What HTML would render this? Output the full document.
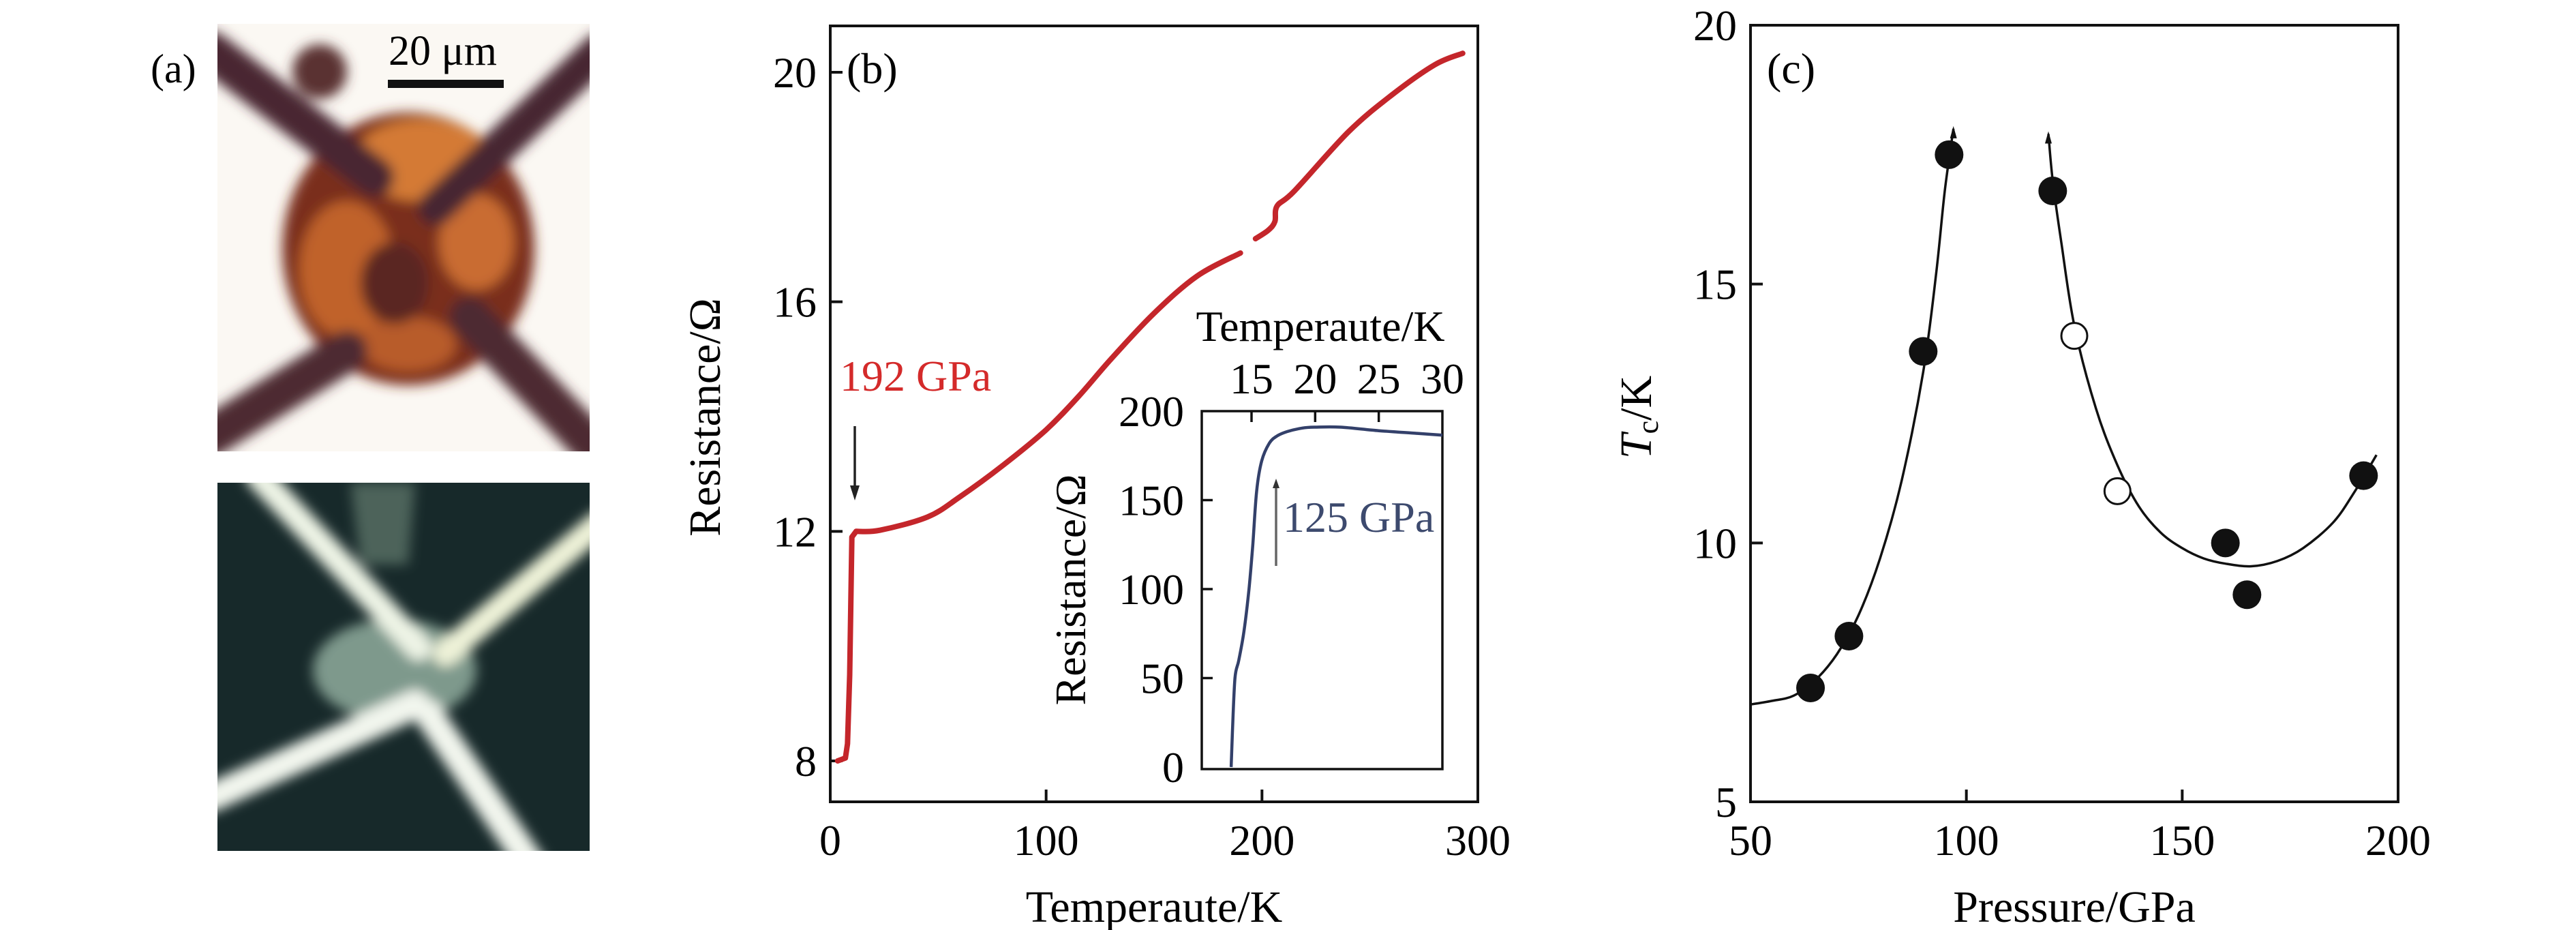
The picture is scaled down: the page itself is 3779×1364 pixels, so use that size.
<!DOCTYPE html>
<html><head><meta charset="utf-8"><style>
html,body{margin:0;padding:0;background:#fff}
svg{display:block}
text{font-family:"Liberation Serif",serif}
</style></head><body>
<svg id="fig" width="3779" height="1364" viewBox="0 0 3779 1364" xmlns="http://www.w3.org/2000/svg">
<defs>
<filter id="bl" x="-20%" y="-20%" width="140%" height="140%"><feGaussianBlur stdDeviation="9"/></filter>
<clipPath id="cpTop"><rect x="319" y="35" width="546" height="627"/></clipPath>
<clipPath id="cpBot"><rect x="319" y="708" width="546" height="540"/></clipPath>
</defs>

<g>
<text x="221" y="121" font-size="60">(a)</text>
<g clip-path="url(#cpTop)">
<rect x="319" y="35" width="546" height="627" fill="#fbf8f3"/>
<g transform="translate(319,35)" filter="url(#bl)">
<ellipse cx="280" cy="330" rx="185" ry="200" fill="#7a2f1c"/>
<ellipse cx="300" cy="200" rx="100" ry="60" fill="#d47a34"/>
<ellipse cx="190" cy="360" rx="70" ry="100" fill="#c0622a"/>
<ellipse cx="380" cy="320" rx="55" ry="70" fill="#c96c30"/>
<ellipse cx="280" cy="470" rx="70" ry="40" fill="#b85c2a"/>
<line x1="-10" y1="40" x2="230" y2="225" stroke="#4a2833" stroke-width="58" stroke-linecap="round"/>
<line x1="560" y1="40" x2="320" y2="270" stroke="#472633" stroke-width="52" stroke-linecap="round"/>
<line x1="-10" y1="605" x2="190" y2="480" stroke="#4e2a33" stroke-width="60" stroke-linecap="round"/>
<line x1="560" y1="630" x2="370" y2="430" stroke="#4e2a33" stroke-width="60" stroke-linecap="round"/>
<ellipse cx="260" cy="380" rx="50" ry="60" fill="#5a2624"/>
<ellipse cx="150" cy="70" rx="40" ry="40" fill="#5a3030"/>
</g>
</g>
<text x="570" y="95" font-size="62">20 μm</text>
<rect x="569" y="117" width="170" height="12" fill="#111"/>
<g clip-path="url(#cpBot)">
<rect x="319" y="708" width="546" height="540" fill="#17292a"/>
<g transform="translate(319,708)" filter="url(#bl)">
<path d="M195 0 L290 0 L280 120 L210 120 Z" fill="#6f8a7c" opacity="0.6"/>
<ellipse cx="260" cy="275" rx="120" ry="75" fill="#7e998c"/>
<line x1="60" y1="-10" x2="295" y2="242" stroke="#eef4e6" stroke-width="38" stroke-linecap="round"/>
<line x1="560" y1="60" x2="335" y2="250" stroke="#eef2d8" stroke-width="38" stroke-linecap="round"/>
<line x1="-10" y1="462" x2="290" y2="325" stroke="#f2f6ee" stroke-width="42" stroke-linecap="round"/>
<line x1="310" y1="340" x2="460" y2="560" stroke="#f2f6ee" stroke-width="42" stroke-linecap="round"/>
</g>
</g>
</g>

<g id="pb">
<rect x="1218" y="38" width="950" height="1138" fill="none" stroke="#111" stroke-width="4"/>
<text x="1242" y="122" font-size="64">(b)</text>
<text transform="translate(1056,612) rotate(-90)" text-anchor="middle" font-size="66">Resistance/Ω</text>
<text x="1693" y="1352" text-anchor="middle" font-size="66">Temperaute/K</text>
<text x="1232" y="573" font-size="64" fill="#d42a2a">192 GPa</text>
<line x1="1254" y1="625" x2="1254" y2="718" stroke="#222" stroke-width="3.5"/>
<polygon points="1247,712 1261,712 1254,734" fill="#222"/>
<g id="pbAxes"></g>
<g id="pbLine"></g>
<rect x="1763" y="603" width="353" height="525" fill="#fff" stroke="#111" stroke-width="3.5"/>
<text x="1937" y="500" text-anchor="middle" font-size="64">Temperaute/K</text>
<text transform="translate(1592,865) rotate(-90)" text-anchor="middle" font-size="64">Resistance/Ω</text>
<g id="inAxes"></g>
<g id="inLine"></g>
<line x1="1872" y1="830" x2="1872" y2="712" stroke="#666" stroke-width="3.5"/>
<polygon points="1867,716 1877,716 1872,702" fill="#333"/>
<text x="1882" y="780" font-size="64" fill="#3d4a6e">125 GPa</text>
</g>

<g id="pc">
<rect x="2568" y="37" width="950" height="1139" fill="none" stroke="#111" stroke-width="4"/>
<text x="2592" y="122" font-size="64">(c)</text>
<text transform="translate(2422,612) rotate(-90)" text-anchor="middle" font-size="66"><tspan font-style="italic">T</tspan><tspan font-size="44" dy="10">c</tspan><tspan dy="-10">/K</tspan></text>
<text x="3043" y="1352" text-anchor="middle" font-size="66">Pressure/GPa</text>
<g id="pcAxes"></g>
<g id="pcLines"></g>
<g id="pcPts"></g>
</g>
</svg>
<script>
const bXTicks = [0, 100, 200, 300];
const bYTicks = [8, 12, 16, 20];
const bSeg1T = [3.4, 7, 8, 9, 10, 12, 23, 45, 60, 80, 100, 115, 130, 150, 170, 190];
const bSeg1R = [8.0, 8.05, 8.3, 9.5, 11.9, 12.0, 12.02, 12.25, 12.6, 13.15, 13.77, 14.35, 15.0, 15.8, 16.45, 16.85];
const bSeg2T = [197, 203, 206, 207, 215, 240, 260, 280, 293];
const bSeg2R = [17.1, 17.25, 17.4, 17.67, 17.93, 18.96, 19.6, 20.13, 20.33];
const inXTicks = [15, 20, 25, 30];
const inYTicks = [0, 50, 100, 150, 200];
const inT = [13.4, 13.5, 13.7, 14.0, 14.4, 14.8, 15.1, 15.4, 15.8, 16.4, 17.0, 17.8, 19, 20, 22, 25, 28, 30];
const inR = [0, 20, 50, 60, 76, 100, 125, 155, 172, 182, 186, 188.5, 190.5, 191, 191, 189, 187.5, 186.5];
const cXTicks = [50, 100, 150, 200];
const cYTicks = [5, 10, 15, 20];
const cFilledP = [63.9, 72.8, 90, 96, 120, 160, 165, 192];
const cFilledT = [7.2, 8.2, 13.7, 17.5, 16.8, 10.0, 9.0, 11.3];
const cOpenP = [125, 135];
const cOpenT = [14.0, 11.0];
const cFit1P = [50, 55, 60, 65, 70, 75, 80, 85, 90, 93, 95, 97];
const cFit1T = [6.88, 6.95, 7.05, 7.35, 7.85, 8.6, 9.7, 11.2, 13.3, 15.2, 16.8, 18.0];
const cFit2P = [119, 120, 122, 125, 130, 135, 140, 145, 150, 155, 160, 166, 172, 178, 185, 190, 195];
const cFit2T = [17.9, 17.0, 15.8, 14.2, 12.6, 11.5, 10.7, 10.2, 9.9, 9.7, 9.6, 9.55, 9.65, 9.9, 10.4, 11.0, 11.7];

const NS = "http://www.w3.org/2000/svg";
function mk(tag, attrs, parent){const e=document.createElementNS(NS,tag);for(const k in attrs)e.setAttribute(k,attrs[k]);parent.appendChild(e);return e;}
function lin(d0,d1,r0,r1){return v=>r0+(v-d0)*(r1-r0)/(d1-d0);}
const bx = lin(0,300,1218,2168), by = lin(8,20,1116,106);
const ix = lin(15,30,1836,2116), iy = lin(0,200,1125,603);
const cx = lin(50,200,2568,3518), cy = lin(5,20,1176,37);

// linearUntil: segments before this index are drawn straight
function smoothD(xs, ys, fx, fy, linearUntil){
  linearUntil = linearUntil || 0;
  const P=xs.map((v,i)=>[fx(v),fy(ys[i])]);
  let d="M"+P[0][0].toFixed(1)+" "+P[0][1].toFixed(1);
  for(let i=0;i<P.length-1;i++){
    const p1=P[i],p2=P[i+1];
    if(i<linearUntil){d+=" L"+p2[0].toFixed(1)+" "+p2[1].toFixed(1);continue;}
    const p0=P[Math.max(linearUntil,i-1)],p3=P[Math.min(P.length-1,i+2)];
    const c1=[p1[0]+(p2[0]-p0[0])/6,p1[1]+(p2[1]-p0[1])/6];
    const c2=[p2[0]-(p3[0]-p1[0])/6,p2[1]-(p3[1]-p1[1])/6];
    d+=" C"+c1[0].toFixed(1)+" "+c1[1].toFixed(1)+" "+c2[0].toFixed(1)+" "+c2[1].toFixed(1)+" "+p2[0].toFixed(1)+" "+p2[1].toFixed(1);
  }
  return d;
}

const pbA = document.getElementById('pbAxes');
bXTicks.forEach(t=>{
  const x=bx(t);
  if(t>0&&t<300){const l=mk('line',{x1:x,y1:1176,x2:x,y2:1158,stroke:'#111','stroke-width':4},pbA);
  
  }
  const tx=mk('text',{x:x,y:1254,'text-anchor':'middle','font-size':64},pbA);tx.textContent=t;
  
  
});
bYTicks.forEach(t=>{
  const y=by(t);
  const l=mk('line',{x1:1218,y1:y,x2:1236,y2:y,stroke:'#111','stroke-width':4},pbA);
  
  
  const tx=mk('text',{x:1198,y:y+22,'text-anchor':'end','font-size':64},pbA);tx.textContent=t;
  
  
});
const pbL=document.getElementById('pbLine');
const p1=mk('path',{d:smoothD(bSeg1T,bSeg1R,bx,by,5),fill:'none',stroke:'#c4262b','stroke-width':8,'stroke-linejoin':'round','stroke-linecap':'round'},pbL);


const p2=mk('path',{d:smoothD(bSeg2T,bSeg2R,bx,by,0),fill:'none',stroke:'#c4262b','stroke-width':8,'stroke-linejoin':'round','stroke-linecap':'round'},pbL);



const inA=document.getElementById('inAxes');
inXTicks.forEach(t=>{
  const x=ix(t);
  if(t<30){const l=mk('line',{x1:x,y1:603,x2:x,y2:619,stroke:'#111','stroke-width':3.5},inA);
  
  }
  const tx=mk('text',{x:x,y:577,'text-anchor':'middle','font-size':64},inA);tx.textContent=t;
  
  
});
inYTicks.forEach(t=>{
  const y=iy(t);
  if(t>0&&t<200){const l=mk('line',{x1:1763,y1:y,x2:1779,y2:y,stroke:'#111','stroke-width':3.5},inA);
  
  }
  const tx=mk('text',{x:1737,y:y+22,'text-anchor':'end','font-size':64},inA);tx.textContent=t;
  
  
});
const ip=mk('path',{d:smoothD(inT,inR,ix,iy,0),fill:'none',stroke:'#33406a','stroke-width':4.5,'stroke-linejoin':'round'},document.getElementById('inLine'));



const pcA=document.getElementById('pcAxes');
cXTicks.forEach(t=>{
  const x=cx(t);
  if(t>50&&t<200){const l=mk('line',{x1:x,y1:1176,x2:x,y2:1158,stroke:'#111','stroke-width':4},pcA);
  
  }
  const tx=mk('text',{x:x,y:1254,'text-anchor':'middle','font-size':64},pcA);tx.textContent=t;
  
  
});
cYTicks.forEach(t=>{
  const y=cy(t);
  if(t>5&&t<20){const l=mk('line',{x1:2568,y1:y,x2:2586,y2:y,stroke:'#111','stroke-width':4},pcA);
  
  }
  const tx=mk('text',{x:2548,y:y+22,'text-anchor':'end','font-size':64},pcA);tx.textContent=t;
  
  
});
const pcL=document.getElementById('pcLines');
[[cFit1P,cFit1T],[cFit2P,cFit2T]].forEach(s=>{
  const p=mk('path',{d:smoothD(s[0],s[1],cx,cy,0),fill:'none',stroke:'#111','stroke-width':3.5},pcL);
  
  
});
[[cFit1P[cFit1P.length-1],cFit1T[cFit1T.length-1]],[cFit2P[0],cFit2T[0]]].forEach(pt=>{
  const x=cx(pt[0]),y=cy(pt[1]);
  const a=mk('polygon',{points:`${x-5},${y+14} ${x+5},${y+14} ${x},${y-4}`,fill:'#111'},pcL);
  
  
});
const pcP=document.getElementById('pcPts');
cFilledP.forEach((p,i)=>{
  const c=mk('circle',{cx:cx(p),cy:cy(cFilledT[i]),r:21,fill:'#111'},pcP);
  
  
});
cOpenP.forEach((p,i)=>{
  const c=mk('circle',{cx:cx(p),cy:cy(cOpenT[i]),r:19,fill:'#fff',stroke:'#111','stroke-width':3},pcP);
  
  
});
</script>
</body></html>
